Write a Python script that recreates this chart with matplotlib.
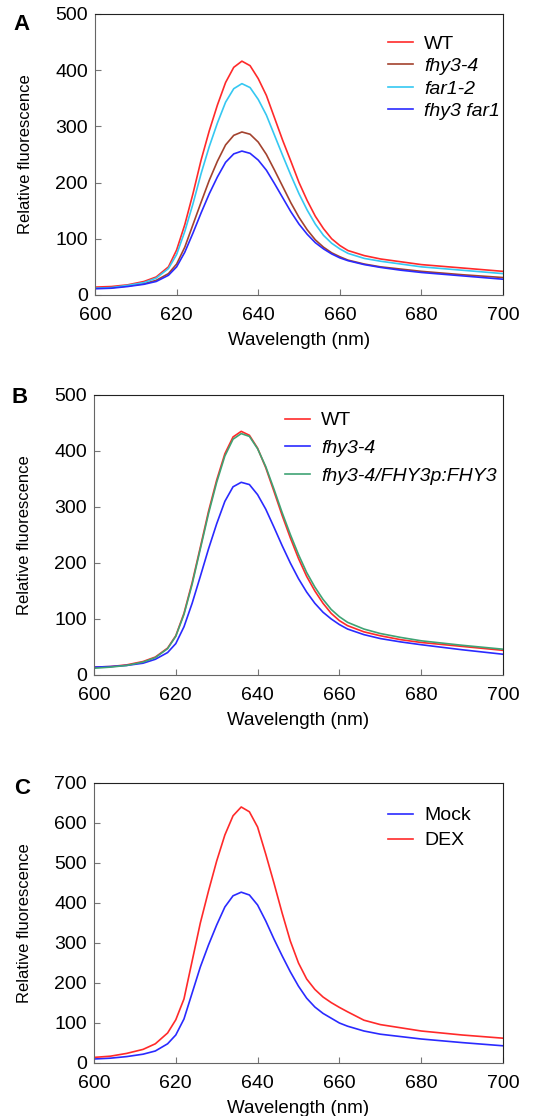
"""
Chlorophyll fluorescence emission spectra, panels A-C.
"""

import matplotlib.pyplot as plt

plt.rcParams["font.family"] = ["Liberation Sans", "DejaVu Sans"]

# wavelength grid shared by all spectra (nm)
wavelength = [600, 604, 608, 612, 615, 618, 620, 622, 624, 626, 628, 630,
              632, 634, 636, 638, 640, 642, 644, 646, 648, 650, 652, 654,
              656, 658, 660, 662, 666, 670, 675, 680, 690, 700]

# panel A
a_wt = [14, 15, 18, 24, 32, 50, 80, 125, 180, 240, 292, 338, 378, 405, 416,
        408, 385, 355, 315, 275, 238, 200, 168, 140, 118, 100, 88, 79,
        70, 64, 59, 54, 48, 42]
a_fhy3 = [12, 13, 16, 20, 26, 38, 55, 85, 125, 165, 204, 238, 267, 284, 290,
          286, 272, 250, 222, 193, 164, 138, 116, 98, 85, 75, 68, 62,
          55, 50, 46, 42, 36, 31]
a_far1 = [12, 13, 17, 22, 30, 47, 72, 113, 162, 216, 264, 306, 343, 367, 376,
          369, 348, 320, 284, 248, 213, 180, 151, 126, 106, 92, 82, 74,
          65, 60, 55, 50, 44, 38]
a_double = [11, 12, 15, 19, 24, 35, 50, 76, 110, 146, 180, 210, 236, 251, 256,
            252, 240, 222, 198, 173, 148, 126, 108, 93, 82, 73, 66, 61,
            54, 49, 44, 40, 34, 28]

# panel B
b_wt = [14, 15, 18, 24, 32, 48, 70, 110, 165, 228, 292, 348, 395, 425, 435,
        428, 405, 370, 328, 285, 245, 208, 176, 150, 128, 110, 97, 88,
        77, 70, 63, 58, 51, 44]
b_fhy3 = [14, 15, 17, 21, 28, 40, 56, 86, 128, 176, 225, 270, 310, 336, 344,
          340, 322, 296, 264, 231, 200, 172, 148, 128, 112, 100, 90, 82,
          72, 65, 59, 54, 45, 37]
b_comp = [12, 14, 17, 23, 31, 47, 69, 108, 162, 225, 288, 344, 391, 421, 431,
          426, 404, 372, 332, 290, 251, 215, 183, 157, 135, 117, 104, 94,
          82, 74, 67, 61, 53, 46]

# panel C
c_mock = [10, 12, 16, 22, 30, 48, 70, 110, 175, 240, 295, 345, 390, 418, 427,
          420, 395, 355, 310, 268, 228, 192, 162, 140, 124, 112, 100, 92,
          80, 72, 66, 60, 51, 43]
c_dex = [14, 17, 24, 34, 48, 75, 108, 160, 255, 350, 430, 505, 570, 618, 640,
         628, 590, 522, 450, 375, 305, 250, 210, 184, 165, 151, 139, 128,
         107, 96, 88, 80, 70, 62]

RED = "#ff2a2a"
BROWN = "#a3422e"
CYAN = "#35c8f2"
BLUE = "#2a2aff"
GREEN = "#3fa374"

panels = [
    ("A", [0.1753, 0.7357, 0.7528, 0.2518], 500,
     [(a_wt, RED, "WT"), (a_fhy3, BROWN, "fhy3-4"),
      (a_far1, CYAN, "far1-2"), (a_double, BLUE, "fhy3 far1")],
     (0.718, 0.925), 0.25, (22, 24), 281),
    ("B", [0.1734, 0.3952, 0.7546, 0.2509], 500,
     [(b_wt, RED, "WT"), (b_fhy3, BLUE, "fhy3-4"),
      (b_comp, GREEN, "fhy3-4/FHY3p:FHY3")],
     (0.467, 0.94), 0.52, (20, 397), 280),
    ("C", [0.1734, 0.0475, 0.7546, 0.2509], 700,
     [(c_mock, BLUE, "Mock"), (c_dex, RED, "DEX")],
     (0.719, 0.915), 0.38, (22, 789), 280),
]

fig = plt.figure(figsize=(5.42, 11.16), dpi=100)

for letter, rect, ymax, series, leg_xy, spacing, letter_px, h_px in panels:
    ax = fig.add_axes(rect)
    for values, color, name in series:
        ax.plot(wavelength, values, color=color, lw=1.2, label=name)
    ax.set_xlim(600, 700)
    ax.set_ylim(0, ymax)
    ax.set_xticks(range(600, 701, 20))
    ax.set_yticks(range(0, ymax + 1, 100))
    ax.tick_params(direction="in", length=4, width=0.8, color="#777777",
                   labelsize=14)
    ax.tick_params(axis="x", pad=8.5)
    ax.tick_params(axis="y", pad=5)
    for side in ["left", "bottom"]:
        ax.spines[side].set_color("#666666")
    for side in ["top", "right"]:
        ax.spines[side].set_color("#222222")
    ax.set_xlabel("Wavelength (nm)", fontsize=13.5)
    ax.set_ylabel("Relative fluorescence", fontsize=12)
    ax.xaxis.set_label_coords(0.5, -37 / h_px)
    ax.yaxis.set_label_coords(-62 / 408, 0.5)

    leg = ax.legend(loc="upper left", bbox_to_anchor=leg_xy, frameon=False,
                    fontsize=14, handlelength=1.3, handletextpad=0.55,
                    labelspacing=spacing, borderpad=0, borderaxespad=0)
    for txt in leg.get_texts():
        if txt.get_text() not in ("WT", "Mock", "DEX"):
            txt.set_fontstyle("italic")

    fig.text(letter_px[0] / 542, 1 - letter_px[1] / 1116, letter,
             fontsize=16, fontweight="bold", ha="center", va="center")

fig.savefig("out.png", dpi=100)
